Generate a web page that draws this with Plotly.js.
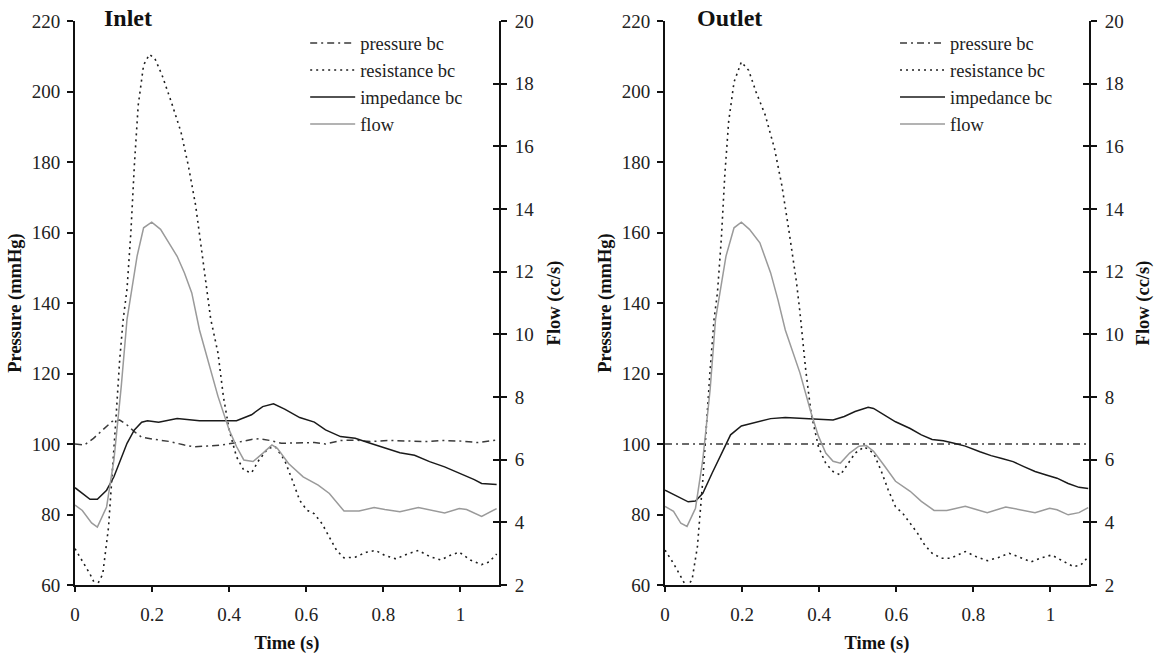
<!DOCTYPE html>
<html>
<head>
<meta charset="utf-8">
<script src="https://cdn.plot.ly/plotly-3.0.1.min.js"></script>
<style>html,body{margin:0;padding:0;background:#fff;}#chart{width:1154px;height:654px;}</style>
</head>
<body>
<div id="chart"></div>
<script>
// ---------- data ----------
const panelTitles = ["Inlet", "Outlet"];
const seriesNames = ["pressure bc", "resistance bc", "impedance bc", "flow"];
const xTickVals = [0, 0.2, 0.4, 0.6, 0.8, 1];
const xTickText = ["0", "0.2", "0.4", "0.6", "0.8", "1"];

// Inlet
const inletPressT = [0,0.024,0.048,0.072,0.096,0.116,0.135,0.154,0.173,0.207,0.246,0.284,0.308,0.342,0.381,0.419,0.458,0.477,0.506,0.535,0.573,0.621,0.65,0.689,0.727,0.766,0.814,0.862,0.91,0.949,1.007,1.045,1.094];
const inletPress = [100,99.7,101.6,104,106.4,106.8,105.4,103.5,101.9,101.3,100.7,99.7,99.2,99.4,99.7,100.4,101.3,101.5,101,100.2,100.2,100.4,100,101,101.1,100.7,101,100.8,100.7,101,100.8,100.4,101.1];

const inletResT = [0,0.019,0.039,0.055,0.072,0.087,0.096,0.106,0.116,0.125,0.135,0.145,0.154,0.164,0.178,0.193,0.207,0.226,0.25,0.275,0.294,0.313,0.328,0.342,0.352,0.371,0.385,0.4,0.419,0.438,0.458,0.477,0.501,0.52,0.544,0.564,0.583,0.602,0.621,0.641,0.66,0.679,0.698,0.727,0.756,0.78,0.804,0.833,0.862,0.891,0.92,0.949,0.973,0.997,1.026,1.055,1.074,1.094];
const inletRes = [70.3,66.9,63.1,59.5,63.1,76.4,89.7,106.8,124,135.3,144,160.1,179,196.1,207.5,210.5,209.4,204.6,197,188.5,179,167.7,155.4,143,135.5,125.8,113.5,104,96.4,92.6,91.8,95.4,98.8,99.2,95.4,89.7,84,81.2,80.2,77.4,73.6,69.8,67.7,67.9,69.3,69.8,68.4,67.4,68.8,69.8,68.1,67.1,68.4,69.3,67.1,65.8,66.5,68.8];

const inletImpT = [0,0.039,0.058,0.082,0.101,0.135,0.154,0.173,0.188,0.217,0.265,0.323,0.419,0.458,0.487,0.515,0.544,0.583,0.621,0.65,0.689,0.727,0.766,0.804,0.843,0.881,0.92,0.959,0.997,1.036,1.055,1.094];
const inletImp = [87.6,84.3,84.3,86.9,90.7,100.2,104,106.2,106.6,106.2,107.2,106.6,106.6,108.3,110.6,111.4,109.9,107.5,106.2,104,102.1,101.6,100.2,98.8,97.5,96.8,95,93.5,91.8,89.9,88.8,88.5];

const inletFlowT = [0,0.019,0.043,0.058,0.082,0.101,0.12,0.135,0.161,0.178,0.199,0.222,0.246,0.265,0.284,0.303,0.323,0.342,0.371,0.4,0.419,0.438,0.462,0.487,0.511,0.525,0.554,0.592,0.631,0.66,0.698,0.737,0.776,0.804,0.843,0.891,0.93,0.959,0.997,1.016,1.055,1.094];
const inletFlow = [4.55,4.38,3.98,3.85,4.49,5.99,8.34,10.48,12.49,13.4,13.58,13.35,12.87,12.49,11.96,11.32,10.14,9.3,8.02,6.95,6.42,5.99,5.94,6.2,6.47,6.36,5.88,5.45,5.19,4.92,4.36,4.36,4.47,4.41,4.34,4.47,4.36,4.3,4.44,4.41,4.19,4.44];

// Outlet
const outletPressT = [0, 1.1];
const outletPress = [100, 100];

const outletResT = [0,0.022,0.041,0.055,0.07,0.084,0.098,0.108,0.117,0.127,0.136,0.146,0.155,0.165,0.179,0.198,0.217,0.236,0.26,0.284,0.303,0.322,0.341,0.35,0.365,0.379,0.398,0.417,0.436,0.455,0.474,0.493,0.517,0.541,0.56,0.579,0.598,0.617,0.636,0.655,0.674,0.693,0.717,0.741,0.779,0.808,0.836,0.865,0.893,0.922,0.95,0.979,1.003,1.027,1.06,1.079,1.098];
const outletRes = [69.9,66.1,62.4,59.5,61.4,70.9,89.8,106.8,121,135.2,143,158.2,176.2,191.4,202.7,208.4,206,199.9,193.3,183.8,173.4,160.1,145.9,137.4,121,108.7,99.2,94.5,92.2,91.2,94.5,97.4,99.2,97.4,92.6,87,82.2,80.3,77.5,74.7,71.3,69,67.6,67.6,69.5,68,66.9,67.8,69,67.8,66.6,67.8,68.5,67.1,65.2,65.7,68];

const outletImpT = [0,0.027,0.06,0.079,0.098,0.122,0.146,0.17,0.198,0.236,0.274,0.312,0.35,0.398,0.436,0.465,0.493,0.527,0.541,0.57,0.598,0.636,0.665,0.693,0.722,0.75,0.779,0.817,0.846,0.874,0.903,0.931,0.96,0.989,1.017,1.046,1.074,1.098];
const outletImp = [86.9,85.5,83.6,83.8,86,91.7,97.4,102.6,105.1,106.1,107.2,107.5,107.2,107,106.8,107.8,109.2,110.4,110.1,108.2,106.3,104.4,102.6,101.3,100.9,100.2,99.4,97.8,96.7,95.9,95,93.6,92.2,91.2,90.3,88.8,87.7,87.4];

const outletFlowT = [0,0.022,0.041,0.057,0.079,0.098,0.117,0.131,0.158,0.179,0.198,0.219,0.246,0.274,0.293,0.312,0.35,0.379,0.398,0.417,0.436,0.455,0.479,0.503,0.522,0.541,0.57,0.598,0.636,0.665,0.698,0.731,0.779,0.836,0.884,0.922,0.96,0.998,1.017,1.046,1.074,1.098];
const outletFlow = [4.51,4.35,3.97,3.87,4.45,6,8.24,10.48,12.49,13.4,13.58,13.35,12.92,11.96,11.1,10.14,8.77,7.49,6.75,6.21,5.95,5.89,6.21,6.43,6.45,6.27,5.79,5.31,4.99,4.67,4.38,4.38,4.51,4.31,4.49,4.4,4.31,4.45,4.4,4.24,4.31,4.47];

// ---------- styles ----------
const FONT = "Liberation Serif, Times New Roman, serif";
const styles = [
  {color: "#3a3a3a", width: 1.5, dash: "7px,4px,2px,4px"},
  {color: "#1e1e1e", width: 1.6, dash: "2px,4px"},
  {color: "#1a1a1a", width: 1.5, dash: "solid"},
  {color: "#9a9a9a", width: 1.5, dash: "solid"}
];

function mk(x, y, i, xa, ya, leg, show) {
  return {x: x, y: y, type: "scatter", mode: "lines", name: seriesNames[i],
    xaxis: xa, yaxis: ya, legend: leg, showlegend: show, legendgroup: leg + i,
    line: {color: styles[i].color, width: styles[i].width, dash: styles[i].dash}};
}

const traces = [
  mk(inletPressT, inletPress, 0, "x", "y", "legend", true),
  mk(inletResT, inletRes, 1, "x", "y", "legend", true),
  mk(inletImpT, inletImp, 2, "x", "y", "legend", true),
  mk(inletFlowT, inletFlow, 3, "x", "y2", "legend", true),
  mk(outletPressT, outletPress, 0, "x2", "y3", "legend2", true),
  mk(outletResT, outletRes, 1, "x2", "y3", "legend2", true),
  mk(outletImpT, outletImp, 2, "x2", "y3", "legend2", true),
  mk(outletFlowT, outletFlow, 3, "x2", "y4", "legend2", true),
  // empty helpers so the inner half of the crossing right-axis ticks is drawn
  {x: [], y: [], type: "scatter", xaxis: "x", yaxis: "y5", showlegend: false, hoverinfo: "skip"},
  {x: [], y: [], type: "scatter", xaxis: "x2", yaxis: "y6", showlegend: false, hoverinfo: "skip"}
];

const tickFont = {family: FONT, size: 19, color: "#222"};
const titleFont = {family: FONT, size: 18.5, color: "#111", weight: "bold"};

function xAx(domain, anchor) {
  return {domain: domain, anchor: anchor, range: [0, 1.1], tickvals: xTickVals, ticktext: xTickText,
    ticks: "outside", ticklen: 5, tickwidth: 2, tickcolor: "#111", showline: true, linewidth: 2, linecolor: "#111",
    showgrid: false, zeroline: false, tickfont: tickFont, ticklabelstandoff: 6,
    title: {text: "Time (s)", font: titleFont, standoff: 14}};
}
function yLeft(anchor) {
  return {anchor: anchor, range: [60, 220], dtick: 20, tick0: 0, ticks: "outside", ticklen: 6, tickwidth: 2,
    tickcolor: "#111", showline: true, linewidth: 2, linecolor: "#111", showgrid: false, zeroline: false,
    tickfont: tickFont, ticklabelstandoff: 3,
    title: {text: "Pressure (mmHg)", font: titleFont, standoff: 5}};
}
function yRight(anchor, over) {
  return {anchor: anchor, overlaying: over, side: "right", range: [2, 20], dtick: 2, tick0: 0, ticks: "outside",
    ticklen: 6, tickwidth: 2, tickcolor: "#111", showline: true, linewidth: 2, linecolor: "#111",
    showgrid: false, zeroline: false, tickfont: tickFont, ticklabelstandoff: 4,
    title: {text: "Flow (cc/s)", font: titleFont, standoff: 14}};
}
function yRightInner(anchor, over) {
  return {anchor: anchor, overlaying: over, side: "right", range: [2, 20], dtick: 2, tick0: 0, ticks: "inside",
    ticklen: 6, tickwidth: 2, tickcolor: "#111", showline: false, showgrid: false, zeroline: false,
    showticklabels: false};
}

const layout = {
  width: 1154, height: 654,
  margin: {l: 75, r: 65, t: 21, b: 69, pad: 0},
  paper_bgcolor: "#fff", plot_bgcolor: "#fff",
  font: {family: FONT, color: "#111"},
  showlegend: true,
  xaxis: xAx([0, 0.4181], "y"),
  xaxis2: xAx([0.5819, 1], "y3"),
  yaxis: yLeft("x"),
  yaxis2: yRight("x", "y"),
  yaxis3: yLeft("x2"),
  yaxis4: yRight("x2", "y3"),
  yaxis5: yRightInner("x", "y"),
  yaxis6: yRightInner("x2", "y3"),
  legend: {x: 0.227, y: 0.994, xanchor: "left", yanchor: "top", bgcolor: "rgba(0,0,0,0)",
    font: {family: FONT, size: 18.5, color: "#222"}, traceorder: "grouped", tracegroupgap: 0, itemwidth: 45},
  legend2: {x: 0.8087, y: 0.994, xanchor: "left", yanchor: "top", bgcolor: "rgba(0,0,0,0)",
    font: {family: FONT, size: 18.5, color: "#222"}, traceorder: "grouped", tracegroupgap: 0, itemwidth: 45},
  annotations: [
    {text: panelTitles[0], xref: "paper", yref: "paper", x: 0.0266, y: 1.005, xanchor: "left", yanchor: "middle",
     showarrow: false, font: {family: FONT, size: 24, color: "#111", weight: "bold"}},
    {text: panelTitles[1], xref: "paper", yref: "paper", x: 0.611, y: 1.005, xanchor: "left", yanchor: "middle",
     showarrow: false, font: {family: FONT, size: 24, color: "#111", weight: "bold"}}
  ]
};

Plotly.newPlot("chart", traces, layout, {staticPlot: true, displayModeBar: false});
</script>
</body>
</html>
